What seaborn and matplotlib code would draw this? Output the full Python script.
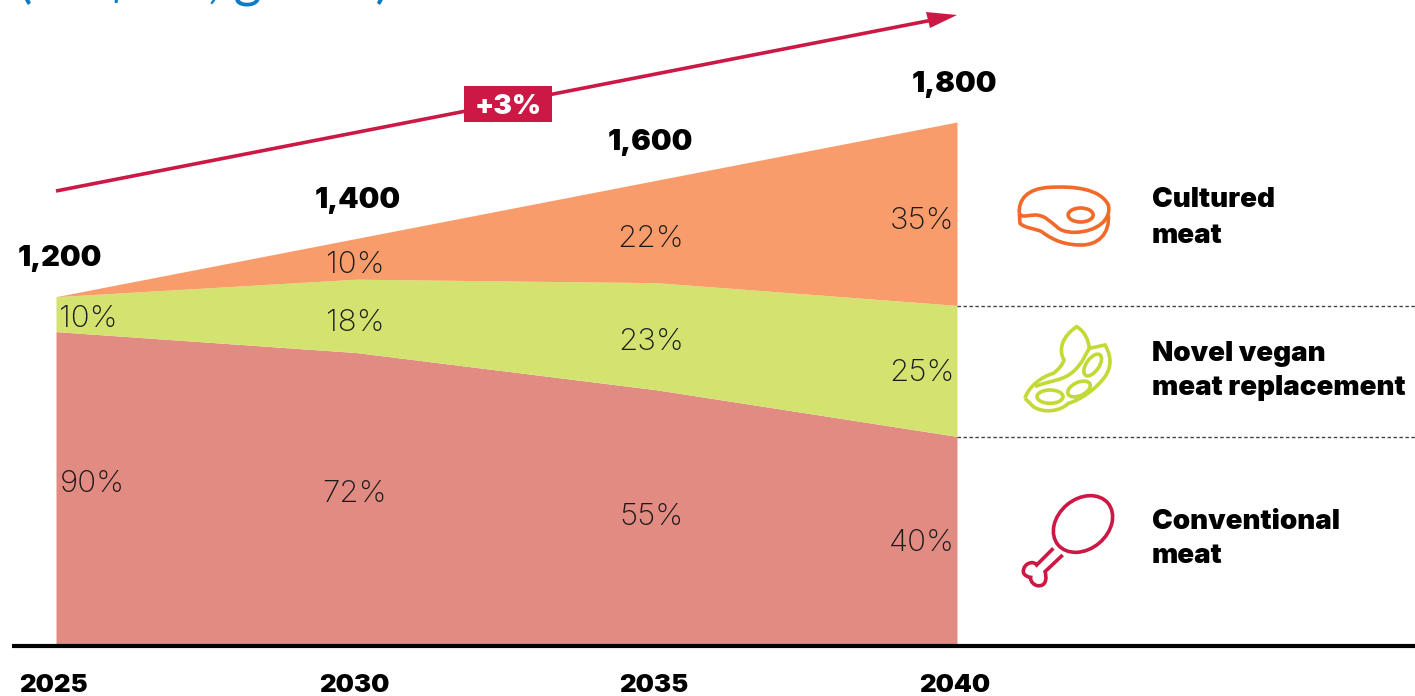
import numpy as np
import matplotlib.pyplot as plt
from matplotlib.patches import Ellipse, PathPatch, Polygon, Rectangle
from matplotlib.path import Path
import seaborn as sns

sns.set_theme(style="white")
plt.rcParams['font.family'] = ['Lato', 'Open Sans', 'DejaVu Sans']
heavy = ['Inter', 'Open Sans', 'DejaVu Sans']

# data
years = [2025, 2030, 2035, 2040]
totals = np.array([1200, 1400, 1600, 1800])
total_labels = ['1,200', '1,400', '1,600', '1,800']
conventional = np.array([90, 72, 55, 40])
vegan = np.array([10, 18, 23, 25])
cultured = np.array([0, 10, 22, 35])

conv_col = '#e28b82'
vegan_col = '#d4e270'
cult_col = '#f89c6b'
red = '#cc1845'
W, H = 1415, 696

fig = plt.figure(figsize=(W / 100, H / 100), dpi=100)

# data axes, filling the whole figure
ax = fig.add_axes([0, 0, 1, 1])
px_year = (957 - 56) / 15
px_unit = 524 / 1800
ax.set_xlim(2025 - 56 / px_year, 2025 + (W - 56) / px_year)
ax.set_ylim(-(H - 646) / px_unit, 646 / px_unit)
ax.stackplot(years, totals * conventional / 100, totals * vegan / 100, totals * cultured / 100,
             colors=[conv_col, vegan_col, cult_col], linewidth=0)
sns.despine(ax=ax, left=True, bottom=True, top=True, right=True)
ax.set_xticks([])
ax.set_yticks([])

# overlay in pixels for labels and icons
ov = fig.add_axes([0, 0, 1, 1])
ov.set_xlim(0, W)
ov.set_ylim(H, 0)
ov.axis('off')
ov.patch.set_alpha(0)

ov.plot([12, W], [646, 646], color='black', lw=3, solid_capstyle='butt')
for y in [306, 437]:
    ov.plot([957, W], [y, y], color='#444444', lw=1, ls=(0, (2.5, 1.8)))

# growth arrow
ov.plot([56, 935], [191, 19.5], color=red, lw=2.6, solid_capstyle='butt')
ov.add_patch(Polygon([(957, 15), (926, 12), (930, 28)], closed=True, color=red, lw=0))
ov.add_patch(Rectangle((464, 86), 88, 36, color=red, lw=0, zorder=3))
ov.text(508, 104, '+3%', color='white', fontsize=20, fontweight='black', family=heavy,
        ha='center', va='center_baseline', zorder=4)

# cut-off subtitle at the top edge
ov.text(18, -3, '(US$ bn, global)', color='#0b7cc4', fontsize=39, fontweight='normal', ha='left', va='baseline')

# totals
for x, y, s in zip([60, 358, 650, 954], [255, 197, 139, 81], total_labels):
    ov.text(x, y, s, fontsize=21, fontweight='black', family=heavy, color='black', ha='center', va='center_baseline')

# shares
pct_x = [92, 355, 651, 922]
pct = dict(fontsize=22.5, fontweight='light', family=heavy, color='#1a1a1a', ha='center', va='center_baseline')
for i in range(4):
    ov.text(pct_x[i], [481, 491, 514, 540][i], f'{conventional[i]}%', **pct)
    ov.text(pct_x[i] - (4 if i == 0 else 0), [316, 320, 339, 370][i], f'{vegan[i]}%', **pct)
    if cultured[i] > 0:
        ov.text(pct_x[i], [0, 262, 236, 218][i], f'{cultured[i]}%', **pct)

# year labels
for x, yr in zip([53, 354, 654, 955], years):
    ov.text(x, 683, str(yr), fontsize=18.5, fontweight='black', family=heavy, color='black', ha='center',
            va='center_baseline')

# legend text
for y, s in [(197, 'Cultured'), (233, 'meat'), (351, 'Novel vegan'), (385, 'meat replacement'),
             (519, 'Conventional'), (553, 'meat')]:
    ov.text(1152, y, s, fontsize=20, fontweight='black', family=heavy, color='black', ha='left', va='center_baseline')


# icons, outlined in coordinates of a 3x crop
def curve(col, ox, oy, start, segs, close=False):
    verts = [start]
    codes = [Path.MOVETO]
    for s in segs:
        if len(s) == 3:
            verts += list(s)
            codes += [Path.CURVE4] * 3
        else:
            verts += list(s)
            codes += [Path.LINETO]
    if close:
        verts.append(start)
        codes.append(Path.CLOSEPOLY)
    verts = [(ox + a / 3, oy + b / 3) for a, b in verts]
    ov.add_patch(PathPatch(Path(verts, codes), fill=False, edgecolor=col, lw=2.6))


def oval(col, ox, oy, c, w, h, ang=0, lw=2.6):
    ov.add_patch(Ellipse((ox + c[0] / 3, oy + c[1] / 3), w / 3, h / 3, angle=ang, fill=False, edgecolor=col, lw=lw))


orange = '#f26a2a'
curve(orange, 1000, 160, (58, 160), [((55, 120), (80, 85), (150, 82)), ((220, 78), (300, 85), (325, 135)),
                                     ((335, 180), (290, 215), (225, 217)), ((195, 217), (180, 210), (170, 200)),
                                     ((150, 185), (135, 165), (105, 165)), ((85, 165), (65, 175), (58, 160))])
curve(orange, 1000, 160, (58, 160), [((60, 190),), ((75, 205), (105, 205), (125, 215)),
                                     ((165, 245), (200, 255), (245, 255)), ((290, 255), (330, 225), (325, 165))])
oval(orange, 1000, 160, (242, 165), 75, 42)

lime = '#c3d936'
curve(lime, 1000, 160, (75, 715), [((85, 680), (125, 650), (160, 640)), ((175, 630), (190, 610), (192, 600)),
                                   ((175, 570), (185, 530), (230, 500)), ((255, 515), (265, 540), (268, 565)),
                                   ((315, 555),), ((335, 590), (335, 620), (315, 650)),
                                   ((285, 690), (240, 720), (205, 730)), ((180, 755), (130, 760), (100, 740)),
                                   ((75, 715),)])
curve(lime, 1000, 160, (105, 680), [((150, 660), (190, 665), (225, 630)), ((250, 605), (255, 585), (268, 565))])
oval(lime, 1000, 160, (278, 615), 75, 38, -55)
oval(lime, 1000, 160, (237, 687), 72, 40, -25)
oval(lime, 1000, 160, (150, 710), 78, 40, 0)

oval(red, 1000, 440, (249, 252), 195, 150, -40)
curve(red, 1000, 440, (160, 325), [((110, 375),), ((100, 360), (70, 370), (70, 395)),
                                   ((70, 405), (85, 412), (92, 412)), ((90, 425), (105, 440), (120, 437)),
                                   ((140, 435), (140, 410), (135, 395)), ((188, 345),)])

fig.savefig('out.png', dpi=100)
